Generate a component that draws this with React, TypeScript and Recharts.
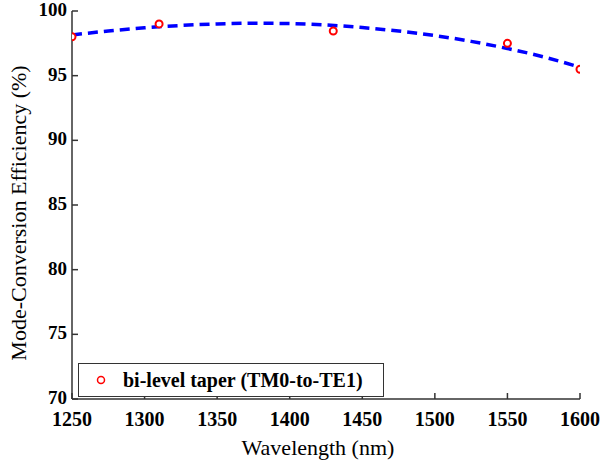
import React from 'react';
import { ComposedChart, Line, Scatter, XAxis, YAxis, Legend } from 'recharts';

// measured points
const measWavelength = [1250, 1310, 1430, 1550, 1600];
const measEfficiency = [98.0, 99.0, 98.45, 97.5, 95.5];

// fitted curve
const fitWavelength = [1250, 1275, 1300, 1325, 1350, 1375, 1400, 1425, 1450, 1475, 1500, 1525, 1550, 1575, 1600];
const fitEfficiency = [98.15, 98.45, 98.7, 98.88, 99.0, 99.05, 99.03, 98.92, 98.72, 98.45, 98.1, 97.65, 97.1, 96.45, 95.65];

const xTicks = [1250, 1300, 1350, 1400, 1450, 1500, 1550, 1600];
const yTicks = [70, 75, 80, 85, 90, 95, 100];

const FONT = "'Liberation Serif', 'Times New Roman', 'DejaVu Serif', serif";

const measData = measWavelength.map((w, i) => ({ w, eff: measEfficiency[i] }));
const fitData = fitWavelength.map((w, i) => ({ w, fit: fitEfficiency[i] }));

const XTick = (props: any) => {
    const { x, y, payload } = props;
    return (
        <g>
            <line x1={x} y1={y} x2={x} y2={y - 6} stroke="#333" strokeWidth={1.5} />
            <text x={x} y={y + 27} textAnchor="middle" style={{ fontFamily: FONT }} fontSize={20} fontWeight="bold" fill="#000">
                {payload.value}
            </text>
        </g>
    );
};

const YTick = (props: any) => {
    const { x, y, payload } = props;
    return (
        <g>
            <line x1={x} y1={y} x2={x + 6} y2={y} stroke="#333" strokeWidth={1.5} />
            <text x={x - 5} y={y + 5} textAnchor="end" style={{ fontFamily: FONT }} fontSize={19} fontWeight="bold" fill="#000">
                {payload.value}
            </text>
        </g>
    );
};

const LegendBox = () => (
    <div
        style={{
            width: 306,
            height: 34,
            border: '1.5px solid #333',
            background: '#fff',
            display: 'flex',
            alignItems: 'center',
            boxSizing: 'border-box',
            whiteSpace: 'nowrap',
        }}
    >
        <svg width={40} height={20}>
            <circle cx={22} cy={10} r={3.5} fill="#fff" stroke="#ff0000" strokeWidth={1.5} />
        </svg>
        <span style={{ fontFamily: FONT, fontSize: 20, fontWeight: 'bold', marginLeft: 4, lineHeight: '22px' }}>
            bi-level taper (TM0-to-TE1)
        </span>
    </div>
);

const XTitle = () => (
    <text x={318} y={455} textAnchor="middle" style={{ fontFamily: FONT }} fontSize={22} fill="#000">
        Wavelength (nm)
    </text>
);

const YTitle = () => (
    <text x={0} y={0} transform="translate(26, 213) rotate(-90)" textAnchor="middle" style={{ fontFamily: FONT }} fontSize={22} fill="#000">
        Mode-Conversion Efficiency (%)
    </text>
);

const App = () => {
    return (
        <div style={{ position: 'absolute', left: 0, top: 0, width: 600, height: 462, background: '#fff', fontFamily: FONT }}>
            <ComposedChart width={600} height={462} margin={{ top: 11, right: 20, left: 0, bottom: 0 }}>
                <XAxis
                    type="number"
                    dataKey="w"
                    domain={[1250, 1600]}
                    ticks={xTicks}
                    allowDataOverflow
                    height={63}
                    stroke="#333"
                    strokeWidth={1.5}
                    tickLine={false}
                    tickSize={0}
                    tickMargin={0}
                    tick={<XTick />}
                    label={{ content: <XTitle /> }}
                />
                <YAxis
                    type="number"
                    domain={[70, 100]}
                    ticks={yTicks}
                    allowDataOverflow
                    width={72}
                    stroke="#333"
                    strokeWidth={1.5}
                    tickLine={false}
                    tickSize={0}
                    tickMargin={0}
                    tick={<YTick />}
                    label={{ content: <YTitle /> }}
                />
                <Legend
                    content={<LegendBox />}
                    layout="horizontal"
                    verticalAlign="middle"
                    align="center"
                    wrapperStyle={{ left: 78, top: 363, width: 306 }}
                />
                <Line
                    data={fitData}
                    dataKey="fit"
                    type="monotone"
                    stroke="#0000ff"
                    strokeWidth={3.5}
                    strokeDasharray="10 6"
                    dot={false}
                    activeDot={false}
                    legendType="none"
                    isAnimationActive={false}
                />
                <Scatter
                    data={measData}
                    dataKey="eff"
                    fill="#fff"
                    stroke="#ff0000"
                    strokeWidth={2}
                    shape={(p: any) => <circle cx={p.cx} cy={p.cy} r={3.5} fill="#fff" stroke="#ff0000" strokeWidth={2} />}
                    isAnimationActive={false}
                />
            </ComposedChart>
        </div>
    );
};

export default App;
